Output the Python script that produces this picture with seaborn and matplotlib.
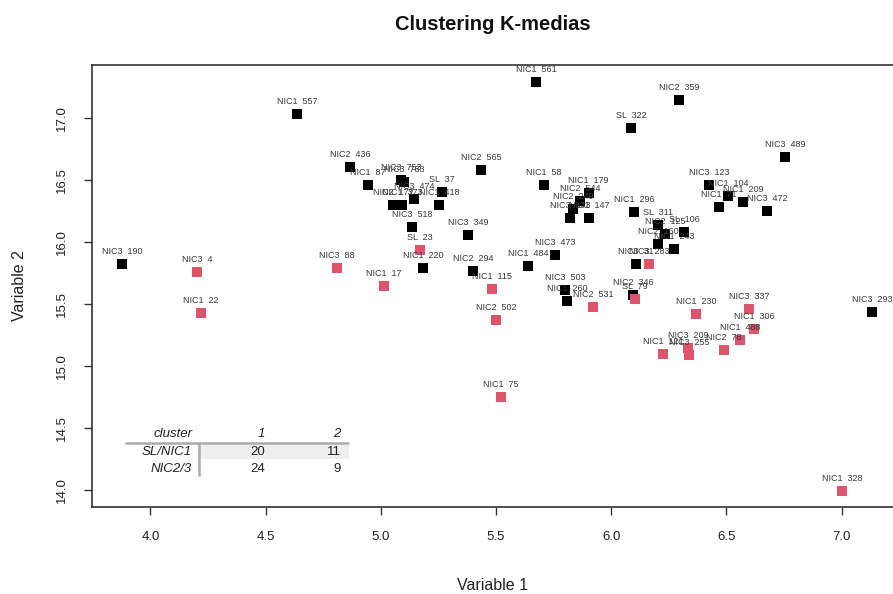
import numpy as np
import pandas as pd
import matplotlib
matplotlib.use("Agg")
import matplotlib.pyplot as plt
from matplotlib.patches import Rectangle
import seaborn as sns

# ---- data -------------------------------------------------------------
labels = [
    "NIC1  561", "NIC2  359", "SL  322", "NIC1  557", "NIC3  489", "NIC2  436",
    "NIC2  565", "NIC1  87", "NIC3  753", "NIC3  783", "SL  37", "NIC3  474",
    "NIC1  418", "NIC2  172", "NIC1  373", "NIC3  518", "NIC3  349", "NIC1  220",
    "NIC2  294", "NIC3  190", "NIC1  58", "NIC1  179", "NIC2  544", "NIC2  249",
    "NIC3  143", "NIC1  147", "NIC3  473", "NIC1  484", "NIC3  503", "NIC1  260",
    "NIC1  296", "SL  311", "NIC2  125", "SL  106", "NIC2  160", "NIC1  243",
    "NIC3  31", "NIC2  346", "NIC3  123", "NIC1  104", "NIC1  71", "NIC1  209",
    "NIC3  472", "NIC3  293",
    "NIC3  4", "NIC1  22", "NIC3  88", "NIC1  17", "SL  23", "NIC1  115",
    "NIC2  502", "NIC1  75", "NIC2  531", "NIC3  283", "SL  79", "NIC1  230",
    "NIC3  337", "NIC1  306", "NIC1  488", "NIC2  78", "NIC3  209", "NIC3  255",
    "NIC1  121", "NIC1  328",
]
var1 = [
    5.674, 6.294, 6.086, 4.636, 6.754, 4.866,
    5.435, 4.944, 5.088, 5.101, 5.266, 5.144,
    5.253, 5.053, 5.092, 5.135, 5.378, 5.183,
    5.400, 3.877, 5.708, 5.902, 5.865, 5.834,
    5.821, 5.904, 5.756, 5.639, 5.800, 5.809,
    6.099, 6.203, 6.233, 6.316, 6.203, 6.273,
    6.108, 6.095, 6.424, 6.507, 6.468, 6.572,
    6.676, 7.132,
    4.202, 4.219, 4.810, 5.014, 5.170, 5.483,
    5.500, 5.522, 5.921, 6.164, 6.103, 6.368,
    6.598, 6.620, 6.559, 6.490, 6.333, 6.337,
    6.225, 7.002,
]
var2 = [
    17.293, 17.148, 16.922, 17.035, 16.688, 16.607,
    16.583, 16.462, 16.502, 16.486, 16.405, 16.349,
    16.300, 16.300, 16.300, 16.123, 16.058, 15.792,
    15.768, 15.824, 16.462, 16.397, 16.333, 16.268,
    16.195, 16.195, 15.897, 15.808, 15.614, 15.525,
    16.244, 16.139, 16.066, 16.082, 15.985, 15.945,
    15.824, 15.574, 16.462, 16.373, 16.284, 16.324,
    16.252, 15.437,
    15.760, 15.429, 15.792, 15.646, 15.937, 15.622,
    15.372, 14.751, 15.477, 15.824, 15.542, 15.420,
    15.461, 15.299, 15.211, 15.130, 15.146, 15.090,
    15.098, 13.992,
]
cluster = [1] * 44 + [2] * 20

cluster_colors = {1: "black", 2: "#DF536B"}
group_order = ["SL/NIC1", "NIC2/3"]

df = pd.DataFrame({"label": labels, "Variable 1": var1,
                   "Variable 2": var2, "cluster": cluster})
df["group"] = np.where(df["label"].str.startswith(("SL", "NIC1")),
                       "SL/NIC1", "NIC2/3")
counts = pd.crosstab(df["group"], df["cluster"]).reindex(group_order)

# ---- figure -----------------------------------------------------------
sns.set_theme(style="ticks")
plt.rcParams["font.family"] = ["Liberation Sans", "DejaVu Sans"]

W, H = 893, 594
fig = plt.figure(figsize=(W / 100, H / 100), dpi=100)
ax = fig.add_axes([92 / W, 87 / H, 801 / W, 442 / H])

sns.scatterplot(data=df, x="Variable 1", y="Variable 2", hue="cluster",
                palette=cluster_colors, marker="s", s=50, linewidth=0,
                legend=False, ax=ax, zorder=3)

for _, r in df.iterrows():
    ax.annotate(r["label"], (r["Variable 1"], r["Variable 2"]),
                xytext=(0, 9), textcoords="offset points",
                ha="center", va="center", fontsize=6.5, color="#383838",
                zorder=4)

ax.set_xlim(3.7465, 7.223)
ax.set_ylim(13.863, 17.430)
ax.set_xticks(np.arange(4.0, 7.01, 0.5))
ax.set_yticks(np.arange(14.0, 17.01, 0.5))
ax.set_xticklabels([f"{v:.1f}" for v in np.arange(4.0, 7.01, 0.5)])
ax.set_yticklabels([f"{v:.1f}" for v in np.arange(14.0, 17.01, 0.5)])

ax.spines["right"].set_visible(False)
for s in ("left", "top", "bottom"):
    ax.spines[s].set_color("#333333")
    ax.spines[s].set_linewidth(1.2)

ax.tick_params(direction="out", length=5.5, width=1.0, color="#333333",
               labelsize=9.5, pad=12, labelcolor="#222222")
for t in ax.get_yticklabels():
    t.set_rotation(90)
    t.set_va("center")

ax.set_xlabel("Variable 1", fontsize=11.5, color="#222222", va="center")
ax.xaxis.set_label_coords(0.5, (507 - 586) / 442)
ax.set_ylabel("Variable 2", fontsize=11.5, color="#222222", va="center")
ax.yaxis.set_label_coords((20 - 92) / 801, 0.5)

ax.set_title("Clustering K-medias", fontsize=14.5, fontweight="bold",
             color="#111111", y=1 + (65 - 24) / 442, va="center", pad=0)

# ---- count table in the lower-left corner ------------------------------
col_right = [4.181, 4.497, 4.827]
row_y = [14.452, 14.307, 14.170]
ax.add_patch(Rectangle((4.215, 14.250), 4.862 - 4.215, 14.363 - 14.250,
                       facecolor="#EEEEEE", edgecolor="none", zorder=1))
ax.plot([3.890, 4.862], [14.379, 14.379], color="#AAAAAA", lw=1.8,
        solid_capstyle="butt", zorder=2)
ax.plot([4.213, 4.213], [14.379, 14.113], color="#AAAAAA", lw=1.8,
        solid_capstyle="butt", zorder=2)

tab_kw = dict(ha="right", va="center", fontsize=9.5, color="#222222", zorder=4)
ax.text(col_right[0], row_y[0], "cluster", style="italic", **tab_kw)
for j, c in enumerate(counts.columns):
    ax.text(col_right[j + 1], row_y[0], str(c), style="italic", **tab_kw)
for i, g in enumerate(counts.index):
    ax.text(col_right[0], row_y[i + 1], g, style="italic", **tab_kw)
    for j, c in enumerate(counts.columns):
        ax.text(col_right[j + 1], row_y[i + 1], str(counts.loc[g, c]), **tab_kw)

fig.savefig("out.png", dpi=100)
